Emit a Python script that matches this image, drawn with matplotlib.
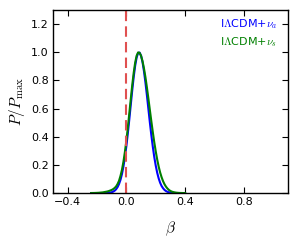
import matplotlib
matplotlib.use("Agg")
import matplotlib.pyplot as plt

plt.rcParams['mathtext.fontset'] = 'cm'
plt.rcParams['font.family'] = ['DejaVu Sans']

beta = [-0.24, -0.23, -0.22, -0.21, -0.20, -0.19, -0.18, -0.17, -0.16, -0.15,
        -0.14, -0.13, -0.12, -0.11, -0.10, -0.09, -0.08, -0.07, -0.06, -0.05,
        -0.04, -0.03, -0.02, -0.01, 0.00, 0.01, 0.02, 0.03, 0.04, 0.05,
        0.06, 0.07, 0.08, 0.09, 0.10, 0.11, 0.12, 0.13, 0.14, 0.15,
        0.16, 0.17, 0.18, 0.19, 0.20, 0.21, 0.22, 0.23, 0.24, 0.25,
        0.26, 0.27, 0.28, 0.29, 0.30, 0.31, 0.32, 0.33, 0.34, 0.35,
        0.36, 0.37, 0.38, 0.39, 0.40]

p_nua = [0.0, 0.0, 0.0, 0.0, 0.0, 0.0, 0.00003, 0.00005, 0.0001, 0.0003,
         0.0005, 0.001, 0.0018, 0.0033, 0.0059, 0.010, 0.0166, 0.0268, 0.042, 0.064,
         0.094, 0.135, 0.188, 0.254, 0.333, 0.424, 0.523, 0.627, 0.730, 0.825,
         0.905, 0.963, 0.995, 0.998, 0.976, 0.930, 0.864, 0.784, 0.693, 0.597,
         0.501, 0.411, 0.329, 0.256, 0.195, 0.144, 0.104, 0.073, 0.050, 0.034,
         0.022, 0.014, 0.0087, 0.0053, 0.0031, 0.0018, 0.001, 0.0006, 0.0003, 0.0002,
         0.0001, 0.0, 0.0, 0.0, 0.0]

p_nus = [0.0003, 0.0005, 0.0007, 0.001, 0.0015, 0.002, 0.003, 0.004, 0.005, 0.007,
         0.009, 0.011, 0.014, 0.018, 0.022, 0.028, 0.036, 0.047, 0.064, 0.087,
         0.122, 0.165, 0.222, 0.292, 0.372, 0.465, 0.566, 0.668, 0.767, 0.855,
         0.927, 0.976, 0.999, 0.996, 0.975, 0.937, 0.885, 0.822, 0.749, 0.671,
         0.590, 0.510, 0.433, 0.361, 0.296, 0.238, 0.188, 0.146, 0.112, 0.084,
         0.062, 0.045, 0.032, 0.022, 0.015, 0.010, 0.0068, 0.0045, 0.0028, 0.0018,
         0.0011, 0.0007, 0.0004, 0.0002, 0.0001]

labels = [r'I$\Lambda$CDM+$\nu_a$', r'I$\Lambda$CDM+$\nu_s$']
colors = ['#0000ff', '#008000']
xticks = [-0.4, 0.0, 0.4, 0.8]
yticks = [0.0, 0.2, 0.4, 0.6, 0.8, 1.0, 1.2]

fig = plt.figure(figsize=(2.99, 2.45), dpi=100)
ax = fig.add_axes([0.177, 0.212, 0.786, 0.747])

ax.plot(beta, p_nua, color=colors[0], lw=1.5)
ax.plot(beta, p_nus, color=colors[1], lw=1.5)
ax.axvline(0.0, color='#e05050', lw=1.5, ls=(0, (5, 2.5)))

ax.set_xlim(-0.5, 1.1)
ax.set_ylim(0, 1.3)
ax.set_xticks(xticks)
ax.set_yticks(yticks)
ax.set_xticklabels(['\u22120.4', '0.0', '0.4', '0.8'])
ax.set_yticklabels(['%.1f' % v for v in yticks])
ax.tick_params(direction='in', length=4, width=0.8, labelsize=8,
               top=True, right=True, pad=3)
for s in ax.spines.values():
    s.set_linewidth(1.0)

ax.set_xlabel(r'$\beta$', fontsize=11, labelpad=9)
ax.set_ylabel(r'$P/P_{\rm max}$', fontsize=11, labelpad=3)

ax.text(0.955, 0.925, labels[0], color=colors[0], fontsize=8, ha='right', va='center',
        transform=ax.transAxes)
ax.text(0.955, 0.825, labels[1], color=colors[1], fontsize=8, ha='right', va='center',
        transform=ax.transAxes)

fig.savefig('out.png', dpi=100)
